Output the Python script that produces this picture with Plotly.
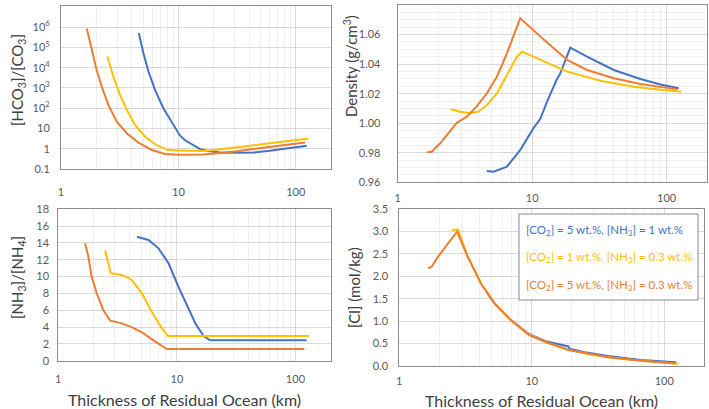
import plotly.graph_objects as go

# colours of the three cases (Excel style)
BLUE = '#4472C4'
YELLOW = '#FFC000'
ORANGE = '#ED7D31'

case_names = ['[CO<sub>2</sub>] = 5 wt.%, [NH<sub>3</sub>] = 1 wt.%',
              '[CO<sub>2</sub>] = 1 wt.%, [NH<sub>3</sub>] = 0.3 wt.%',
              '[CO<sub>2</sub>] = 5 wt.%, [NH<sub>3</sub>] = 0.3 wt.%']

# ---- [HCO3]/[CO3] (top left) ----
hco_blue_x = [4.6, 5.03, 5.56, 6.32, 7.45, 9.06, 10.3, 11.4, 13.4, 15.3, 17.5, 22.7, 30, 43.6, 60, 73.6, 100, 124]
hco_blue_y = [5.2e5, 5.3e4, 6.5e3, 800, 100, 15, 4.5, 2.6, 1.5, 0.95, 0.78, 0.65, 0.63, 0.65, 0.78, 0.91, 1.15, 1.38]
hco_yel_x = [2.48, 2.79, 3.18, 3.63, 4.27, 5.2, 6.5, 8.2, 10, 16.3, 22, 31.5, 45, 60.6, 90, 128]
hco_yel_y = [3.6e4, 3.7e3, 455, 83, 15, 3.9, 1.5, 0.85, 0.82, 0.76, 0.9, 1.15, 1.5, 1.94, 2.5, 3.2]
hco_org_x = [1.66, 1.83, 2.01, 2.22, 2.53, 2.98, 3.63, 4.57, 5.93, 7.7, 8.5, 10, 16.3, 22, 31.5, 45, 60.6, 90, 120]
hco_org_y = [8.5e5, 7.7e4, 8e3, 1.2e3, 145, 22, 5.8, 2.0, 0.86, 0.55, 0.52, 0.5, 0.52, 0.6, 0.75, 0.98, 1.23, 1.6, 2.0]
hco_tickvals = [0.1, 1, 10, 1e2, 1e3, 1e4, 1e5, 1e6]
hco_ticktext = ['0.1', '1', '10', '10<sup>2</sup>', '10<sup>3</sup>', '10<sup>4</sup>', '10<sup>5</sup>', '10<sup>6</sup>']

# ---- Density (top right) ----
den_blue_x = [4.6, 5.16, 6.49, 8.15, 10.2, 11.5, 12.9, 15.3, 16.2, 19.2, 25.6, 40.4, 63.8, 90, 123]
den_blue_y = [0.9676, 0.9672, 0.9706, 0.9819, 0.9965, 1.0030, 1.0146, 1.0300, 1.0338, 1.0511, 1.0450, 1.0360, 1.0299, 1.0262, 1.0236]
den_yel_x = [2.48, 2.91, 3.46, 3.98, 4.6, 5.47, 6.49, 7.7, 8.4, 11.5, 18.2, 32.2, 57, 90, 129]
den_yel_y = [1.0094, 1.0078, 1.0067, 1.0078, 1.0123, 1.0202, 1.0326, 1.0450, 1.0484, 1.0428, 1.0349, 1.0288, 1.0247, 1.0226, 1.0213]
den_org_x = [1.66, 1.79, 2.07, 2.38, 2.75, 3.27, 3.88, 4.6, 5.47, 6.49, 8.15, 11.5, 14.4, 18.2, 25.6, 40.4, 63.8, 100, 120]
den_org_y = [0.9803, 0.9807, 0.9864, 0.9932, 1.0003, 1.0044, 1.0116, 1.0202, 1.0315, 1.0473, 1.0711, 1.0586, 1.0507, 1.0428, 1.0360, 1.0304, 1.0265, 1.0240, 1.0229]

# ---- [NH3]/[NH4] (bottom left) ----
nh_blue_x = [4.6, 5.77, 7.0, 8.51, 10.3, 12.6, 14.3, 16.8, 19.1, 124]
nh_blue_y = [14.74, 14.35, 13.36, 11.58, 8.8, 6.0, 4.45, 2.94, 2.42, 2.42]
nh_yel_x = [2.48, 2.77, 3.44, 4.17, 5.07, 6.16, 7.48, 8.41, 130]
nh_yel_y = [13.1, 10.4, 10.2, 9.6, 8.0, 5.8, 3.85, 2.94, 2.94]
nh_org_x = [1.68, 1.79, 1.91, 2.11, 2.4, 2.74, 3.32, 4.17, 5.23, 6.57, 8.24, 119]
nh_org_y = [13.96, 12.4, 10.0, 8.0, 6.0, 4.76, 4.5, 4.0, 3.25, 2.26, 1.39, 1.39]

# ---- [Cl] (bottom right) ----
cl_blue_x = [4.6, 5.2, 6.93, 9.5, 13, 18.9, 19.3, 25, 37.7, 66.8, 123]
cl_blue_y = [1.64, 1.40, 1.03, 0.71, 0.54, 0.43, 0.38, 0.30, 0.22, 0.13, 0.075]
cl_yel_x = [2.49, 2.69, 2.78, 3.28, 4.13, 5.2, 6.93, 9.5, 13, 18.9, 25, 37.7, 66.8, 128]
cl_yel_y = [3.04, 3.05, 3.04, 2.45, 1.85, 1.41, 1.03, 0.70, 0.52, 0.36, 0.28, 0.19, 0.11, 0.045]
cl_org_x = [1.65, 1.75, 1.96, 2.33, 2.73, 3.28, 4.13, 5.2, 6.93, 9.5, 13, 18.9, 25, 37.7, 66.8, 122]
cl_org_y = [2.18, 2.21, 2.44, 2.74, 3.0, 2.44, 1.84, 1.40, 1.02, 0.69, 0.52, 0.35, 0.28, 0.19, 0.11, 0.05]

W, H = 709, 409
FONT = 'Lato, Open Sans, sans-serif'

panels = [
    ('x', 'y', [(hco_blue_x, hco_blue_y), (hco_yel_x, hco_yel_y), (hco_org_x, hco_org_y)]),
    ('x2', 'y2', [(den_blue_x, den_blue_y), (den_yel_x, den_yel_y), (den_org_x, den_org_y)]),
    ('x3', 'y3', [(nh_blue_x, nh_blue_y), (nh_yel_x, nh_yel_y), (nh_org_x, nh_org_y)]),
    ('x4', 'y4', [(cl_blue_x, cl_blue_y), (cl_yel_x, cl_yel_y), (cl_org_x, cl_org_y)]),
]
colors = [BLUE, YELLOW, ORANGE]

fig = go.Figure()
for xa, ya, series in panels:
    for (sx, sy), c, nm in zip(series, colors, case_names):
        fig.add_trace(go.Scatter(x=sx, y=sy, mode='lines', name=nm, showlegend=False,
                                 line=dict(color=c, width=2), xaxis=xa, yaxis=ya))

# plot area boxes in pixels: left, right, top, bottom
boxes = [(61, 331, 6, 169.3), (397.7, 707, 5, 182.3), (58.3, 331, 209.3, 360.7), (399.3, 704, 209.3, 365.7)]

minor_vals = [m * 10 ** d for d in range(0, 3) for m in range(2, 10)]


def xax(b, standoff):
    return dict(domain=[b[0] / W, b[1] / W], type='log', range=[0, 2.3], automargin=False,
                tickvals=[1, 10, 100], ticktext=['1', '10', '100'],
                showline=True, mirror=True, linecolor='#8c8c8c', linewidth=1,
                showgrid=True, gridcolor='#d9d9d9', zeroline=False, ticks='',
                ticklabelstandoff=standoff,
                minor=dict(tickvals=minor_vals, showgrid=True, gridcolor='#eeeeee'),
                tickfont=dict(size=11, color='#595959', family=FONT))


def yax(b, standoff, **kw):
    d = dict(domain=[1 - b[3] / H, 1 - b[2] / H], showline=True, mirror=True, automargin=False,
             linecolor='#8c8c8c', linewidth=1, showgrid=True, gridcolor='#d9d9d9',
             zeroline=False, ticks='', ticklabelstandoff=standoff,
             tickfont=dict(size=11, color='#595959', family=FONT))
    d.update(kw)
    return d


fig.update_layout(
    template='none',
    width=W, height=H, margin=dict(l=0, r=0, t=0, b=0, autoexpand=False),
    paper_bgcolor='white', plot_bgcolor='white',
    font=dict(family=FONT, color='#404040'),
    xaxis=dict(xax(boxes[0], 12), anchor='y'),
    yaxis=yax(boxes[0], 8, anchor='x', type='log', range=[-1.02, 7.05],
              tickvals=hco_tickvals, ticktext=hco_ticktext),
    xaxis2=dict(xax(boxes[1], 5), anchor='y2'),
    yaxis2=yax(boxes[1], 14, anchor='x2', range=[0.96, 1.08], tickvals=[0.96, 0.98, 1.0, 1.02, 1.04, 1.06, 1.08],
               ticktext=['0.96', '0.98', '1.00', '1.02', '1.04', '1.06', '1.08'],
               minor=dict(dtick=0.005, showgrid=True, gridcolor='#f0f0f0')),
    xaxis3=dict(xax(boxes[2], 8), anchor='y3'),
    yaxis3=yax(boxes[2], 6, anchor='x3', range=[0, 18], dtick=2),
    xaxis4=dict(xax(boxes[3], 5), anchor='y4'),
    yaxis4=yax(boxes[3], 8, anchor='x4', range=[0, 3.5], dtick=0.5, tickformat='.1f'),
)

# axis titles
titles = [
    ('[HCO<sub>3</sub>]/[CO<sub>3</sub>]', 18, 80, -90, 15),
    ('Density (g/cm<sup>3</sup>)', 351, 66, -90, 15),
    ('[NH<sub>3</sub>]/[NH<sub>4</sub>]', 18, 278, -90, 15),
    ('[Cl] (mol/kg)', 354, 288, -90, 15),
    ('Thickness of Residual Ocean (km)', 184, 399, 0, 16),
    ('Thickness of Residual Ocean (km)', 541, 400, 0, 16),
]
for txt, px, py, ang, sz in titles:
    fig.add_annotation(text=txt, x=px / W, y=1 - py / H, xref='paper', yref='paper',
                       showarrow=False, textangle=ang, xanchor='center', yanchor='middle',
                       font=dict(size=sz, color='#404040', family=FONT))

# legend box with coloured text
fig.add_shape(type='rect', xref='paper', yref='paper', x0=519 / W, x1=698 / W,
              y0=1 - 300 / H, y1=1 - 214 / H, line=dict(color='#8c8c8c', width=1),
              fillcolor='white', layer='above')
for nm, c, py in zip(case_names, colors, [230, 257, 285]):
    fig.add_annotation(text=nm, x=524 / W, y=1 - py / H, xref='paper', yref='paper',
                       showarrow=False, xanchor='left', yanchor='middle',
                       font=dict(size=11.5, color=c, family=FONT))

# page body has a default 8px margin; drop it so the chart sits at the corner
fig.write_html("out.html", config={'displayModeBar': False},
               post_script="document.body.style.margin='0';")
